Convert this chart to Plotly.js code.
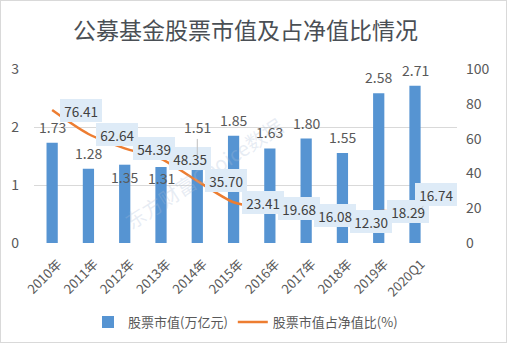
<!DOCTYPE html>
<html><head><meta charset="utf-8">
<script src="https://cdn.plot.ly/plotly-3.0.1.min.js"></script>
<style>
html,body{margin:0;padding:0;background:#fff;}
#wrap{position:relative;width:507px;height:343px;}
#chart{width:507px;height:343px;}
#frame{position:absolute;left:0;top:0;width:505px;height:341px;border:1px solid #d9d9d9;pointer-events:none;}
</style></head>
<body>
<div id="wrap"><div id="chart"></div><div id="frame"></div></div>
<script>
const categories = ['2010年','2011年','2012年','2013年','2014年','2015年','2016年','2017年','2018年','2019年','2020Q1'];
const stockValue = [1.73, 1.28, 1.35, 1.31, 1.51, 1.85, 1.63, 1.80, 1.55, 2.58, 2.71];
const stockRatio = [76.41, 62.64, 54.39, 48.35, 35.70, 23.41, 19.68, 16.08, 12.30, 18.29, 16.74];
const seriesNames = ['股票市值(万亿元)', '股票市值占净值比(%)'];

// label placement tweaks (pixels) for the bar value labels
const barLabelShift = [16, 16, -12, -11, 28, 16, 16, 16, 16, 16, 16];

const FONT = '"Microsoft YaHei","Noto Sans CJK SC","Noto Sans",sans-serif';
const PAD = '\u2009';
const annotations = [];
annotations.push({xref: 'paper', yref: 'paper', x: 0.4, y: 0.4, text: '东方财富Choice数据', showarrow: false,
  textangle: -33, font: {size: 20, color: 'rgba(170,190,215,0.28)', family: FONT}});

function ratioLabel(c, i, withBox) {
  const base = {x: c, y: stockRatio[i], xref: 'x', yref: 'y2', text: PAD + stockRatio[i].toFixed(2) + PAD,
    bgcolor: withBox ? '#DEEBF7' : 'rgba(0,0,0,0)', borderpad: 1.5, borderwidth: 0,
    font: {size: 13.5, color: withBox ? 'rgba(0,0,0,0)' : '#404040', family: FONT}};
  if (i === categories.length - 1) {
    Object.assign(base, {showarrow: withBox, arrowhead: 0, arrowwidth: 1, arrowcolor: '#bfbfbf', ax: 21, ay: -19});
    if (!withBox) Object.assign(base, {showarrow: true, arrowcolor: 'rgba(0,0,0,0)'});
  } else {
    Object.assign(base, {showarrow: false, xanchor: 'left', xshift: 8});
  }
  return base;
}
categories.forEach((c, i) => annotations.push(ratioLabel(c, i, true)));
categories.forEach((c, i) => annotations.push(ratioLabel(c, i, false)));

categories.forEach((c, i) => {
  if (i === 4) {
    annotations.push({x: c, y: stockValue[i], xref: 'x', yref: 'y', text: stockValue[i].toFixed(2),
      showarrow: true, arrowhead: 0, arrowwidth: 1, arrowcolor: '#bfbfbf', ax: 0, ay: -barLabelShift[i],
      font: {size: 14, color: '#595959', family: FONT}});
  } else {
    annotations.push({x: c, y: stockValue[i], xref: 'x', yref: 'y', text: stockValue[i].toFixed(2),
      showarrow: false, yshift: barLabelShift[i], font: {size: 14, color: '#595959', family: FONT}});
  }
});

const traces = [
  {type: 'bar', x: categories, y: stockValue, name: seriesNames[0], yaxis: 'y',
   marker: {color: '#5694D2'}, hoverinfo: 'skip'},
  {type: 'scatter', mode: 'lines', x: categories, y: stockRatio, name: seriesNames[1], yaxis: 'y2',
   line: {color: '#ED7D31', width: 2.5, shape: 'spline', smoothing: 0.8}, hoverinfo: 'skip'}
];

const layout = {
  width: 507, height: 343,
  margin: {l: 34, r: 50, t: 69, b: 100, autoexpand: false},
  paper_bgcolor: '#ffffff', plot_bgcolor: '#ffffff',
  title: {text: '公募基金股票市值及占净值比情况', x: 0.5, xref: 'paper', y: 0.91, yref: 'container', xanchor: 'center', yanchor: 'middle',
    font: {size: 23, color: '#4a4f55', family: FONT}},
  bargap: 0.69,
  showlegend: true,
  legend: {orientation: 'h', x: 0.5, xanchor: 'center', y: -0.455, yanchor: 'middle',
    font: {size: 13, color: '#595959', family: FONT}, itemwidth: 30, tracegroupgap: 0},
  xaxis: {type: 'category', tickangle: -45, tickfont: {size: 13, color: '#595959', family: FONT},
    showgrid: false, showline: false, ticks: '', zeroline: false, ticklabelstandoff: 10, ticklabelshift: 6},
  yaxis: {range: [0, 3], dtick: 1, tickfont: {size: 14, color: '#595959', family: FONT},
    showgrid: true, gridcolor: '#d9d9d9', gridwidth: 1, zeroline: false, showline: false, ticks: '',
    ticklabelstandoff: 14},
  yaxis2: {range: [0, 100], dtick: 20, overlaying: 'y', side: 'right', showgrid: false, zeroline: false,
    tickfont: {size: 14, color: '#595959', family: FONT}, showline: false, ticks: '', ticklabelstandoff: 8},
  annotations: annotations,
  font: {family: FONT}
};
Plotly.newPlot('chart', traces, layout, {displayModeBar: false, staticPlot: true});
</script>
</body></html>
